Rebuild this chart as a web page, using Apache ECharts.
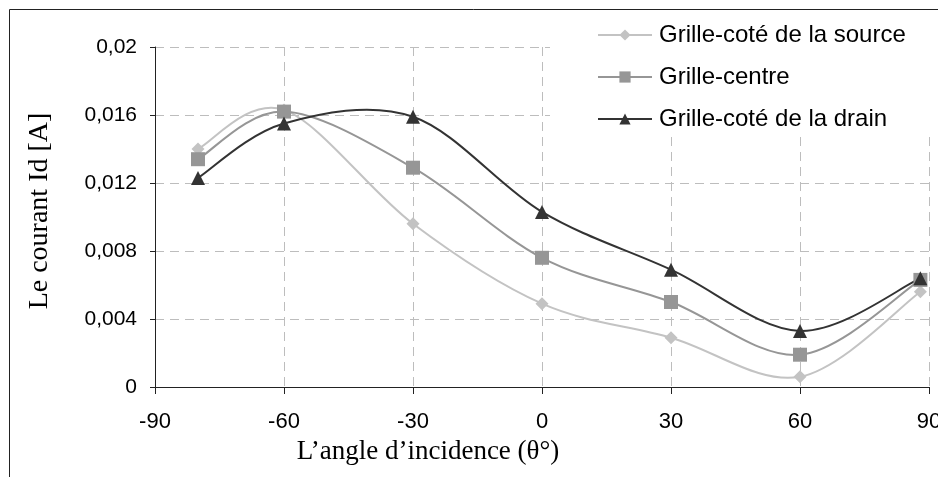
<!DOCTYPE html>
<html>
<head>
<meta charset="utf-8">
<script src="https://cdn.jsdelivr.net/npm/echarts@6/dist/echarts.min.js"></script>
<style>html,body{margin:0;padding:0;background:#fff}#c{width:938px;height:477px}</style>
</head>
<body>
<div id="c"></div>
<script>
var angles = [-80, -60, -30, 0, 30, 60, 88];
var sourceVals = [0.0140, 0.0163, 0.0096, 0.0049, 0.0029, 0.0006, 0.0056];
var centreVals = [0.0134, 0.0162, 0.0129, 0.0076, 0.0050, 0.0019, 0.0063];
var drainVals  = [0.0123, 0.0155, 0.0159, 0.0103, 0.0069, 0.0033, 0.0064];
var seriesNames = ['Grille-coté de la source', 'Grille-centre', 'Grille-coté de la drain'];
var xTicks = [-90, -60, -30, 0, 30, 60, 90];
var yTicks = [0, 0.004, 0.008, 0.012, 0.016, 0.02];

var colors = ['#c3c3c3', '#969696', '#333333'];

function pairs(vals){ return angles.map(function(a,i){ return [a, vals[i]]; }); }

// Smoothed curve (Excel-like Catmull-Rom Bezier) drawn through the axis scales
function curveSeries(vals, color, z){
  return {
    type:'custom', silent:true, z:z, data:pairs(vals),
    encode:{x:0, y:1},
    renderItem:function(params, api){
      var i = params.dataIndex, n = angles.length;
      if (i >= n - 1) return null;
      function P(k){ k = Math.max(0, Math.min(n - 1, k)); return api.coord([angles[k], vals[k]]); }
      var p0 = P(i - 1), p1 = P(i), p2 = P(i + 1), p3 = P(i + 2);
      return {
        type:'bezierCurve',
        shape:{
          x1:p1[0], y1:p1[1],
          cpx1:p1[0] + (p2[0] - p0[0]) / 6, cpy1:p1[1] + (p2[1] - p0[1]) / 6,
          cpx2:p2[0] - (p3[0] - p1[0]) / 6, cpy2:p2[1] - (p3[1] - p1[1]) / 6,
          x2:p2[0], y2:p2[1]
        },
        style:{stroke:color, lineWidth:2, fill:null}
      };
    }
  };
}

function markerSeries(name, vals, color, symbol, size, z){
  return {
    name:name, type:'line', data:pairs(vals), symbol:symbol, symbolSize:size,
    showSymbol:true, color:color, z:z,
    lineStyle:{width:2, color:color, opacity:0},
    itemStyle:{color:color}
  };
}

var chart = echarts.init(document.getElementById('c'), null, {renderer:'canvas'});
chart.setOption({
  animation:false,
  backgroundColor:'#fff',
  grid:{left:155, right:9, top:47, bottom:90, containLabel:false, outerBoundsMode:'none'},
  xAxis:{
    type:'value', min:xTicks[0], max:xTicks[xTicks.length-1], interval:30,
    axisLine:{show:true, onZero:false, lineStyle:{color:'#222', width:1}},
    axisTick:{show:true, length:7, lineStyle:{color:'#222'}},
    axisLabel:{color:'#000', fontSize:22, fontFamily:'Liberation Sans, Arial', margin:24, hideOverlap:false},
    splitLine:{show:true, lineStyle:{color:'#bdbdbd', type:[9,6], width:1}}
  },
  yAxis:{
    type:'value', min:yTicks[0], max:yTicks[yTicks.length-1], interval:0.004,
    axisLine:{show:true, onZero:false, lineStyle:{color:'#222', width:1}},
    axisTick:{show:true, length:5, lineStyle:{color:'#222'}},
    axisLabel:{color:'#000', fontSize:21, fontFamily:'Liberation Sans, Arial', margin:18,
      formatter:function(v){ return String(+v.toFixed(4)).replace('.', ','); }},
    splitLine:{show:true, lineStyle:{color:'#bdbdbd', type:[9,6], width:1}}
  },
  legend:{
    orient:'vertical', left:550, top:10,
    padding:[13, 40, 6, 47], itemGap:18, itemWidth:54, itemHeight:14,
    backgroundColor:'#fff',
    lineStyle:{width:2, opacity:1},
    textStyle:{color:'#000', fontSize:24, fontFamily:'Liberation Sans, Arial', padding:[0,0,0,2]},
    data:seriesNames
  },
  series:[
    curveSeries(sourceVals, colors[0], 2),
    curveSeries(centreVals, colors[1], 3),
    curveSeries(drainVals, colors[2], 4),
    markerSeries(seriesNames[0], sourceVals, colors[0], 'diamond', 13, 5),
    markerSeries(seriesNames[1], centreVals, colors[1], 'rect', 14, 6),
    markerSeries(seriesNames[2], drainVals, colors[2], 'triangle', 14, 7)
  ],
  graphic:[
    {type:'line', shape:{x1:9.5, y1:9.5, x2:938, y2:9.5}, style:{stroke:'#222', lineWidth:1}, z:100},
    {type:'line', shape:{x1:9.5, y1:9.5, x2:9.5, y2:477}, style:{stroke:'#222', lineWidth:1}, z:100},
    {type:'text', x:428, y:452, style:{text:'L\u2019angle d\u2019incidence (\u03b8\u00b0)', fill:'#000',
      font:'27px "Liberation Serif", "Times New Roman", serif', textAlign:'center', textVerticalAlign:'middle'}},
    {type:'text', x:40, y:211, rotation:Math.PI/2, style:{text:'Le courant Id [A]', fill:'#000',
      font:'28px "Liberation Serif", "Times New Roman", serif', textAlign:'center', textVerticalAlign:'middle'}}
  ]
});
</script>
</body>
</html>
